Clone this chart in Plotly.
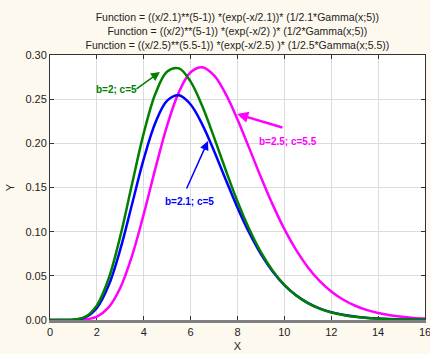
import plotly.graph_objects as go

x = [0, 0.5, 1, 1.5, 2, 2.5, 3, 3.5, 4, 4.5, 5, 5.5, 6, 6.5, 7, 7.5, 8,
     8.5, 9, 9.5, 10, 10.5, 11, 11.5, 12, 12.5, 13, 13.5, 14, 14.5, 15, 15.5, 16]

# b=2; c=5
y_green = [0, 0.0000024, 0.00029, 0.00352, 0.0166, 0.0467, 0.0949, 0.1539, 0.2115, 0.2564,
           0.2813, 0.2849, 0.2699, 0.2419, 0.2067, 0.1695, 0.1342, 0.1030, 0.0768, 0.0559,
           0.0398, 0.0278, 0.0191, 0.0128, 0.0085, 0.0056, 0.0036, 0.0023, 0.0015, 0.0009,
           0.00056, 0.00035, 0.00021]
# b=2.1; c=5
y_blue = [0, 0.0000019, 0.00023, 0.00286, 0.0136, 0.0389, 0.0799, 0.1310, 0.1823, 0.2236,
          0.2483, 0.2544, 0.2440, 0.2212, 0.1913, 0.1588, 0.1272, 0.0988, 0.0746, 0.0550,
          0.0396, 0.0280, 0.0194, 0.0132, 0.0089, 0.0059, 0.0039, 0.0025, 0.0016, 0.0010,
          0.00063, 0.00039, 0.00024]
# b=2.5; c=5.5
y_pink = [0, 0.0000001, 0.00003, 0.00058, 0.00385, 0.0143, 0.0365, 0.0726, 0.1199, 0.1719,
          0.2204, 0.2580, 0.2804, 0.2862, 0.2769, 0.2558, 0.2271, 0.1946, 0.1616, 0.1306,
          0.1029, 0.0793, 0.0598, 0.0443, 0.0323, 0.0232, 0.0164, 0.0114, 0.0079, 0.0054,
          0.0036, 0.0024, 0.0016]

title_lines = [
    "Function = ((x/2.1)**(5-1)) *(exp(-x/2.1))* (1/2.1*Gamma(x;5))",
    "Function = ((x/2)**(5-1)) *(exp(-x/2) )* (1/2*Gamma(x;5))",
    "Function = ((x/2.5)**(5.5-1)) *(exp(-x/2.5) )* (1/2.5*Gamma(x;5.5))",
]

font = "Liberation Sans, Arial, sans-serif"

fig = go.Figure()
fig.add_trace(go.Scatter(x=x, y=y_pink, mode='lines', line=dict(color='#ff00ff', width=2.5, shape='spline')))
fig.add_trace(go.Scatter(x=x, y=y_blue, mode='lines', line=dict(color='#0000ff', width=2.5, shape='spline')))
fig.add_trace(go.Scatter(x=x, y=y_green, mode='lines', line=dict(color='#008000', width=2.5, shape='spline')))
# dummy trace so the top axis is drawn
fig.add_trace(go.Scatter(x=[0], y=[0], xaxis='x2', mode='markers', marker=dict(opacity=0), hoverinfo='skip'))

labels = [
    # text, x, y, colour
    ("b=2; c=5", 2.82, 0.2604, '#008000'),
    ("b=2.1; c=5", 5.97, 0.1336, '#0000ff'),
    ("b=2.5; c=5.5", 10.15, 0.2026, '#ff00ff'),
]
for txt, lx, ly, col in labels:
    fig.add_annotation(x=lx, y=ly, text='<b>' + txt + '</b>', showarrow=False,
                       font=dict(family=font, size=10, color=col))

arrows = [
    # tip x, tip y, tail x, tail y, colour, width
    (4.69, 0.2808, 3.63, 0.2604, '#008000', 1.5),
    (6.74, 0.2026, 5.80, 0.1472, '#0000ff', 1.5),
    (7.98, 0.2332, 9.98, 0.2174, '#ff00ff', 2.5),
]
for tx, ty, ax, ay, col, w in arrows:
    fig.add_annotation(x=tx, y=ty, ax=ax, ay=ay, axref='x', ayref='y', text='',
                       showarrow=True, arrowhead=2, arrowsize=1.2 if w < 2 else 0.9,
                       arrowwidth=w, arrowcolor=col)

fig.update_layout(
    width=430, height=354,
    paper_bgcolor='#fdf9ef', plot_bgcolor='white',
    showlegend=False,
    margin=dict(l=50, r=5, t=55, b=34),
    font=dict(family=font, size=11, color='#222222'),
    title=dict(text='<br>'.join(title_lines), x=0.552, xanchor='center', y=0.94, yanchor='top',
               font=dict(family=font, size=10.5, color='#222222')),
    xaxis=dict(range=[0, 16], dtick=2, showgrid=True, gridcolor='#dcdcdc', gridwidth=1,
               showline=True, linecolor='#808080', linewidth=3, ticks='inside', ticklen=4,
               tickcolor='#333333', zeroline=False, layer='below traces', automargin=False,
               ticklabeloverflow='allow',
               title=dict(text='X', standoff=6, font=dict(size=11))),
    xaxis2=dict(range=[0, 16], dtick=2, overlaying='x', side='top', showgrid=False,
                showline=True, linecolor='#333333', linewidth=1, ticks='inside', ticklen=4,
                tickcolor='#333333', showticklabels=False, zeroline=False, automargin=False),
    yaxis=dict(range=[0, 0.30], dtick=0.05, tickformat='.2f', showgrid=True, gridcolor='#dcdcdc',
               gridwidth=1, showline=True, linecolor='#333333', linewidth=1, mirror='ticks',
               ticks='inside', ticklen=4, tickcolor='#333333', zeroline=False, automargin=False,
               title=dict(text='Y', standoff=8, font=dict(size=11))),
)

# page body has a default 8px margin; drop it so the figure sits at the top-left
fig.write_html("out.html", config={'displayModeBar': False},
               post_script="document.body.style.margin='0';document.body.style.overflow='hidden';")
